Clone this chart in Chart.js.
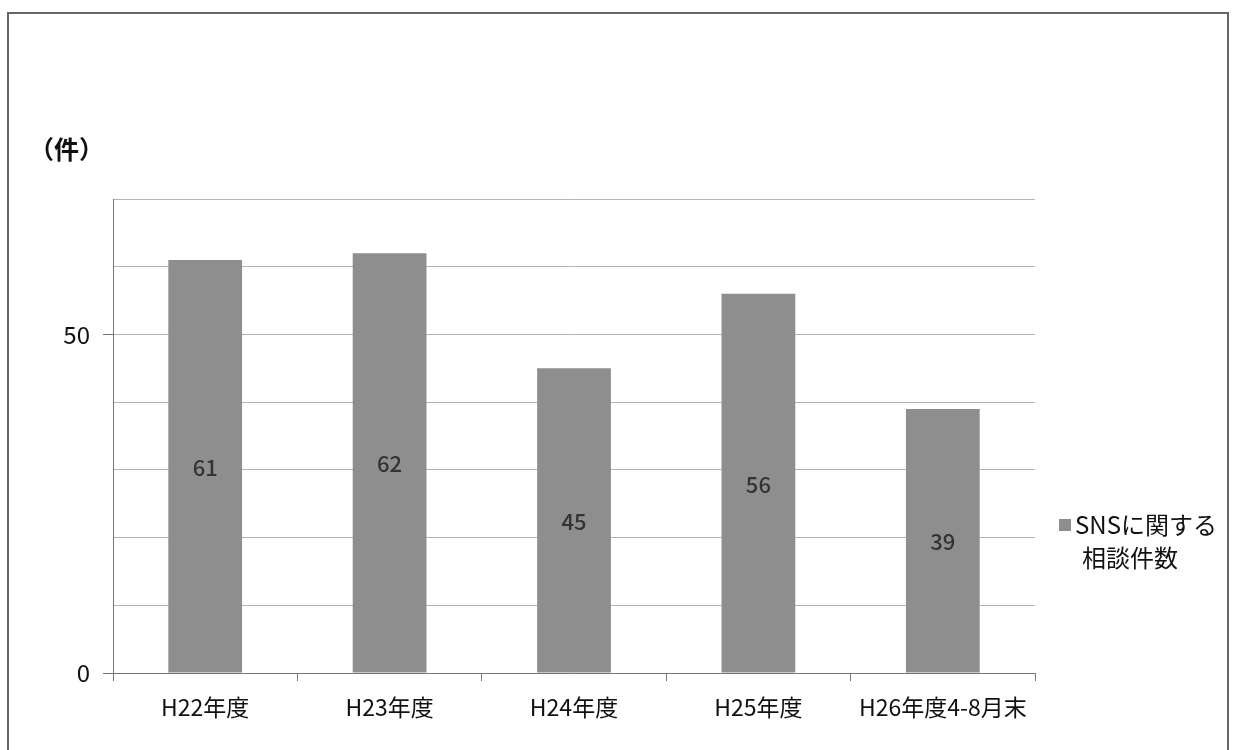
<!DOCTYPE html>
<html>
<head>
<meta charset="utf-8">
<script src="https://cdn.jsdelivr.net/npm/chart.js@4.4.1/dist/chart.umd.min.js"></script>
<style>
html,body{margin:0;padding:0;background:#fff;}
#wrap{position:relative;width:1236px;height:750px;}
</style>
</head>
<body>
<div id="wrap"><canvas id="c" width="1236" height="750"></canvas></div>
<script>
const categories = ["H22年度", "H23年度", "H24年度", "H25年度", "H26年度4-8月末"];
const values = [61, 62, 45, 56, 39];
const seriesName = "SNSに関する相談件数";
const legendLines = ["SNSに関する", "相談件数"];
const yUnit = "（件）";
const labeledTicks = [0, 50];

const FONT = "'Noto Sans CJK JP','Noto Sans',sans-serif";

const decor = {
  id: 'decor',
  beforeDraw(chart) {
    const ctx = chart.ctx;
    ctx.save();
    ctx.fillStyle = '#fff';
    ctx.fillRect(0, 0, chart.width, chart.height);
    ctx.restore();
  },
  afterDraw(chart) {
    const ctx = chart.ctx;
    ctx.save();
    // outer frame
    ctx.strokeStyle = '#666';
    ctx.lineWidth = 2;
    ctx.beginPath();
    ctx.moveTo(8, 760);
    ctx.lineTo(8, 13);
    ctx.lineTo(1228, 13);
    ctx.lineTo(1228, 760);
    ctx.stroke();
    // unit label
    ctx.fillStyle = '#111';
    ctx.font = "bold 25px " + FONT;
    ctx.textBaseline = 'middle';
    ctx.textAlign = 'left';
    ctx.fillText(yUnit, 29, 149);
    // data labels
    const meta = chart.getDatasetMeta(0);
    ctx.font = "500 22px " + FONT;
    ctx.fillStyle = '#333';
    ctx.textAlign = 'center';
    meta.data.forEach((bar, i) => {
      const mid = (bar.y + bar.base) / 2;
      ctx.fillText(String(chart.data.datasets[0].data[i]), bar.x, mid + 1);
    });
    // legend
    const ds = chart.data.datasets[0];
    ctx.fillStyle = ds.backgroundColor;
    ctx.fillRect(1059, 519, 12, 12);
    ctx.fillStyle = '#111';
    ctx.font = "24px " + FONT;
    ctx.textAlign = 'left';
    ctx.fillText(legendLines[0], 1075, 525);
    ctx.fillText(legendLines[1], 1082, 558);
    ctx.restore();
  }
};

new Chart(document.getElementById('c'), {
  type: 'bar',
  data: {
    labels: categories,
    datasets: [{
      label: seriesName,
      data: values,
      backgroundColor: '#8e8e8e',
      borderWidth: 0,
      barPercentage: 0.4,
      categoryPercentage: 1.0
    }]
  },
  options: {
    responsive: false,
    animation: false,
    devicePixelRatio: 1,
    layout: { padding: { left: 0, right: 201, top: 199, bottom: 0 } },
    plugins: {
      legend: { display: false },
      tooltip: { enabled: false }
    },
    scales: {
      x: {
        afterFit(scale) { scale.height = 77; },
        grid: {
          offset: true,
          drawOnChartArea: false,
          drawTicks: true,
          tickLength: 8,
          color: '#777'
        },
        border: { display: true, color: '#777', width: 1 },
        ticks: {
          color: '#111',
          font: { size: 23, family: FONT },
          padding: 12,
          maxRotation: 0,
          autoSkip: false
        }
      },
      y: {
        min: 0,
        max: 70,
        afterFit(scale) { scale.width = 113; },
        grid: {
          color: '#b4b4b4',
          lineWidth: 1,
          tickLength: 10,
          tickColor: (c) => labeledTicks.includes(c.tick && c.tick.value) ? '#777' : 'rgba(0,0,0,0)'
        },
        border: { display: true, color: '#777', width: 1 },
        ticks: {
          stepSize: 10,
          color: '#111',
          font: { size: 24, family: FONT },
          padding: 13,
          callback: (v) => labeledTicks.includes(v) ? String(v) : ''
        }
      }
    }
  },
  plugins: [decor]
});
</script>
</body>
</html>
